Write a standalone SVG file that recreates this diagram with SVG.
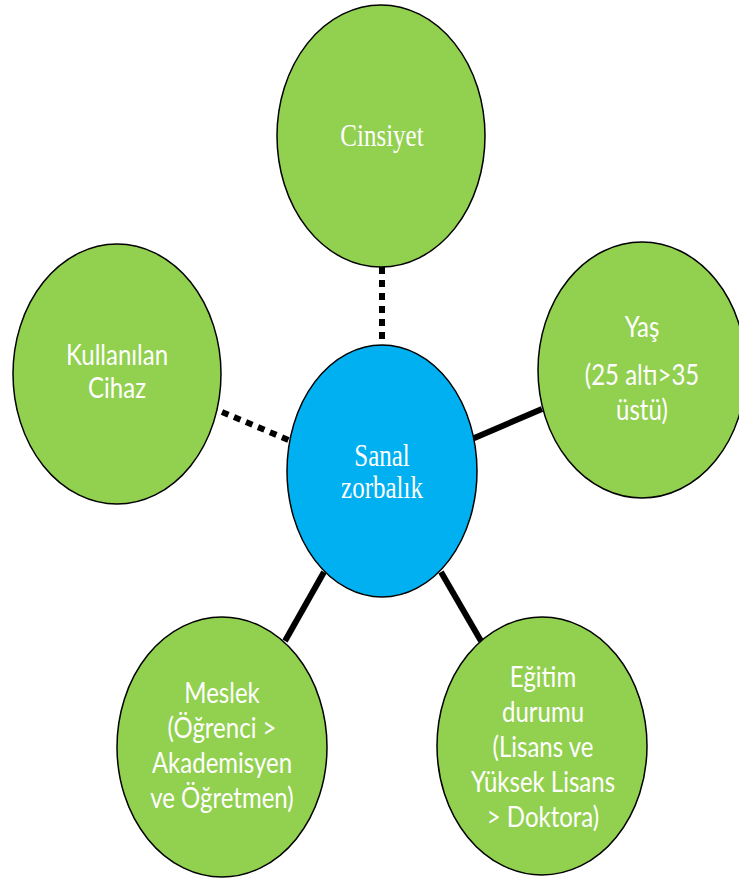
<svg xmlns="http://www.w3.org/2000/svg" width="739" height="880" viewBox="0 0 739 880">
<style>
.g{fill:#92D050;stroke:#000;stroke-width:1.5}
.b{fill:#00B0F0;stroke:#000;stroke-width:1.5}
.sans{font-family:Lato,"Open Sans",sans-serif;font-size:24px;fill:#fff;text-anchor:middle}
.serif{font-family:"Liberation Serif","Times New Roman",serif;font-size:25px;fill:#fff;text-anchor:middle}
.solid{stroke:#000;stroke-width:6;fill:none}
.dot{stroke:#000;stroke-width:6;fill:none;stroke-dasharray:7 6}
</style>
<rect width="739" height="880" fill="#fff"/>
<g id="connectors">
<line class="dot" x1="382" y1="267" x2="382" y2="346"/>
<line class="dot" x1="222" y1="412" x2="291" y2="441"/>
<line class="solid" x1="472" y1="439" x2="542" y2="409"/>
<line class="solid" x1="324" y1="572" x2="285" y2="641"/>
<line class="solid" x1="441" y1="572" x2="481" y2="641"/>
</g>
<g id="cinsiyet">
<ellipse class="g" cx="381" cy="136" rx="104" ry="131"/>
<text class="serif" transform="translate(382,146) scale(1,1.25)">Cinsiyet</text>
</g>
<g id="kullanilan">
<ellipse class="g" cx="117" cy="374" rx="104" ry="130"/>
<text class="sans" transform="translate(117,365) scale(1,1.2)">Kullanılan</text>
<text class="sans" transform="translate(117,398) scale(1,1.2)">Cihaz</text>
</g>
<g id="yas">
<ellipse class="g" cx="642" cy="370" rx="104" ry="128"/>
<text class="sans" transform="translate(642,337) scale(1,1.2)">Yaş</text>
<text class="sans" transform="translate(642,385) scale(1,1.2)">(25 altı&gt;35</text>
<text class="sans" transform="translate(642,420) scale(1,1.2)">üstü)</text>
</g>
<g id="sanal">
<ellipse class="b" cx="382" cy="471" rx="95" ry="126"/>
<text class="serif" transform="translate(382,466) scale(1,1.25)">Sanal</text>
<text class="serif" transform="translate(382,498) scale(1,1.25)">zorbalık</text>
</g>
<g id="meslek">
<ellipse class="g" cx="222" cy="747" rx="105" ry="130"/>
<text class="sans" transform="translate(222,703) scale(1,1.2)">Meslek</text>
<text class="sans" transform="translate(222,738) scale(1,1.2)">(Öğrenci &gt;</text>
<text class="sans" transform="translate(222,773) scale(1,1.2)">Akademisyen</text>
<text class="sans" transform="translate(222,808) scale(1,1.2)">ve Öğretmen)</text>
</g>
<g id="egitim">
<ellipse class="g" cx="542" cy="746" rx="105" ry="129"/>
<text class="sans" transform="translate(543,687) scale(1,1.2)">Eğitim</text>
<text class="sans" transform="translate(543,722) scale(1,1.2)">durumu</text>
<text class="sans" transform="translate(543,757) scale(1,1.2)">(Lisans ve</text>
<text class="sans" transform="translate(543,792) scale(1,1.2)">Yüksek Lisans</text>
<text class="sans" transform="translate(543,827) scale(1,1.2)">&gt; Doktora)</text>
</g>
</svg>
